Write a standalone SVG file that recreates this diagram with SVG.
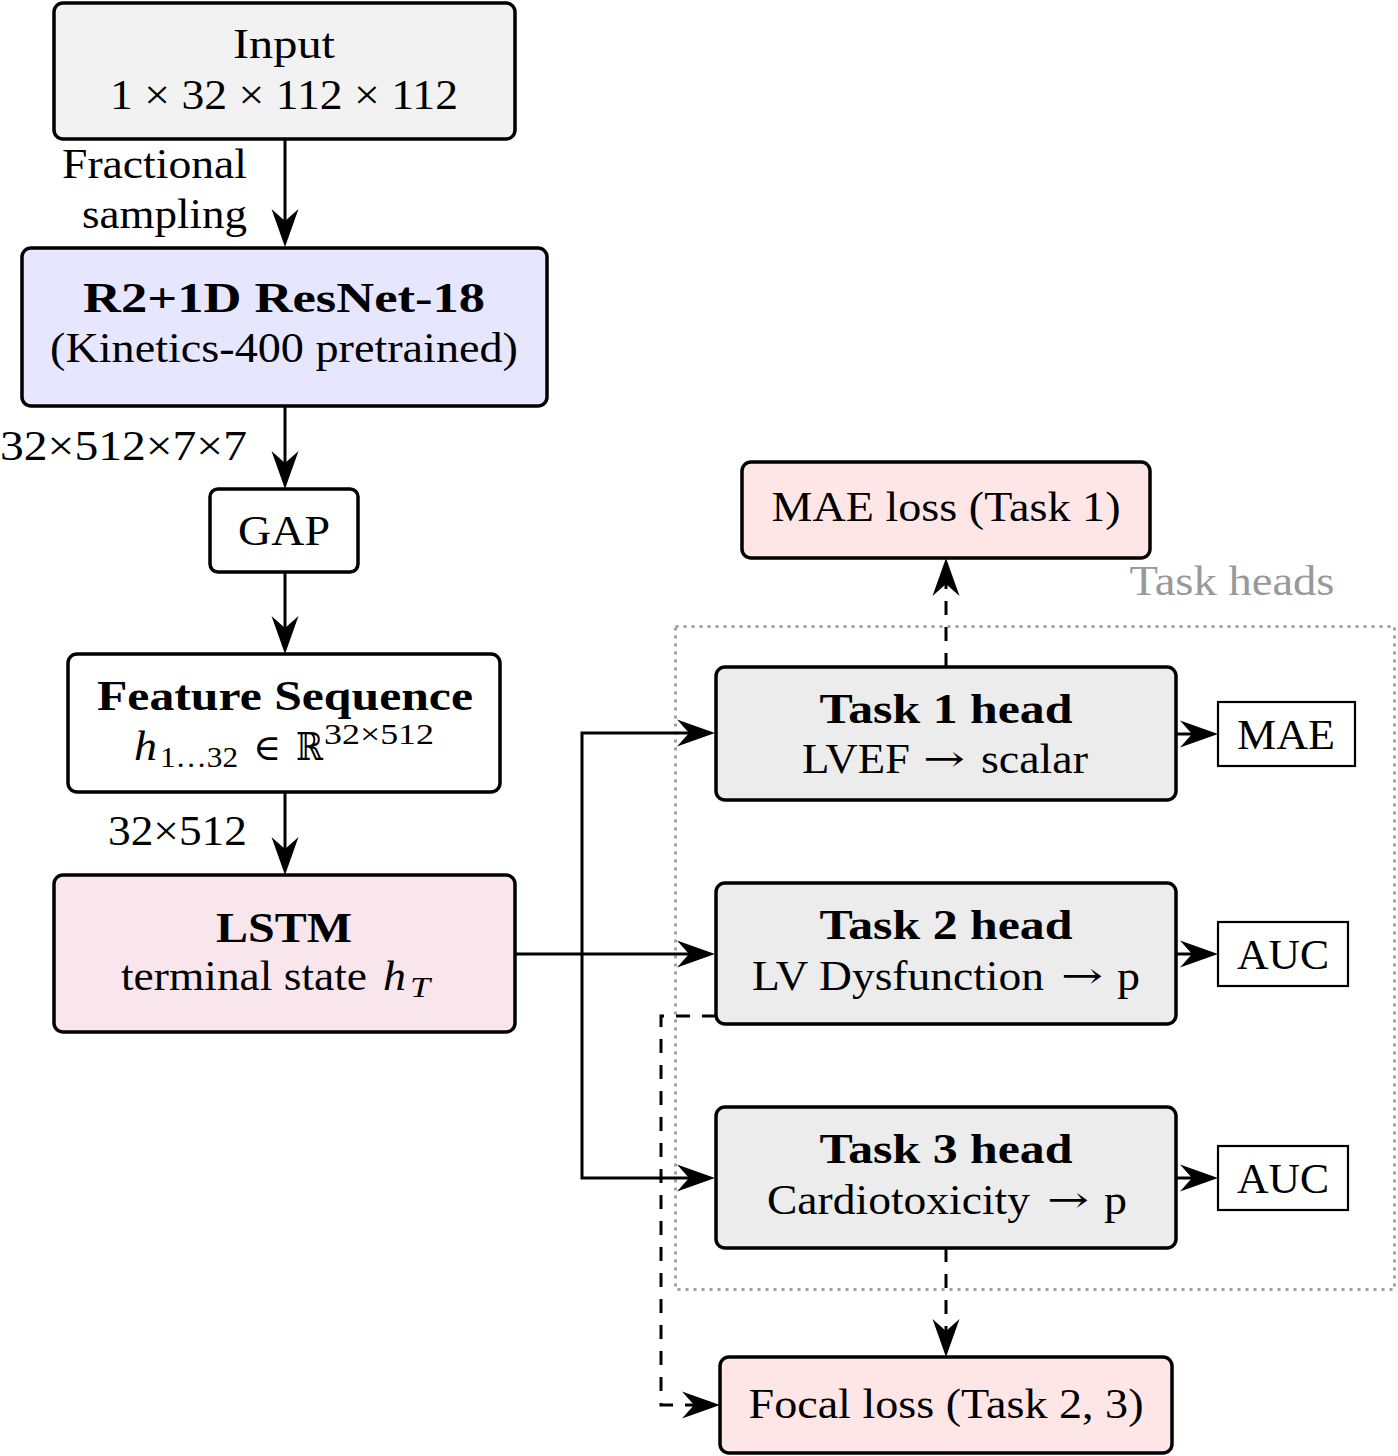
<svg xmlns="http://www.w3.org/2000/svg" width="1398" height="1456" viewBox="0 0 1398 1456">
<style>
text{font-family:"Liberation Serif","DejaVu Serif",serif;font-size:43px;fill:#000}
.b{font-weight:bold}
.ar{font-family:"DejaVu Serif",serif;font-size:36px}
.box{stroke:#000;stroke-width:3.5}
.m{fill:#fff;stroke:#000;stroke-width:2.2}
.c{fill:none;stroke:#000;stroke-width:3}
.d{fill:none;stroke:#000;stroke-width:3;stroke-dasharray:14 12}
</style>
<defs>
<marker id="ah" markerUnits="userSpaceOnUse" viewBox="-40 -15 42 30" markerWidth="42" markerHeight="30" refX="-8" refY="0" orient="auto">
<path d="M0,0 L-38,-13.5 L-26,0 L-38,13.5 Z" fill="#000"/>
</marker>
</defs>
<rect x="0" y="0" width="1398" height="1456" fill="#fff"/>

<g id="taskheads-frame">
<rect x="675.5" y="626.5" width="719" height="663" fill="none" stroke="#a0a0a0" stroke-width="3" stroke-dasharray="3 5"/>
<text x="1232" y="595" text-anchor="middle" style="fill:#999" textLength="205" lengthAdjust="spacingAndGlyphs">Task heads</text>
</g>

<g id="connectors">
<path class="c" d="M285,139 V239" marker-end="url(#ah)"/>
<path class="c" d="M285,406 V481" marker-end="url(#ah)"/>
<path class="c" d="M285,572 V646" marker-end="url(#ah)"/>
<path class="c" d="M285,792 V867" marker-end="url(#ah)"/>
<path class="c" d="M515,954 H707" marker-end="url(#ah)"/>
<path class="c" d="M582,954 V733 H707" marker-end="url(#ah)"/>
<path class="c" d="M582,954 V1178 H707" marker-end="url(#ah)"/>
<path class="c" d="M1176,734 H1210" marker-end="url(#ah)"/>
<path class="c" d="M1176,954 H1210" marker-end="url(#ah)"/>
<path class="c" d="M1176,1178 H1210" marker-end="url(#ah)"/>
<path class="d" d="M946,667 V566" marker-end="url(#ah)"/>
<path class="d" d="M946,1248 V1349" marker-end="url(#ah)"/>
<path class="d" d="M716,1016 H661 V1405 H712" marker-end="url(#ah)"/>
</g>

<g id="input">
<rect class="box" x="54" y="3" width="461" height="136" rx="9" fill="#f2f2f2"/>
<text x="284" y="58" text-anchor="middle" textLength="102" lengthAdjust="spacingAndGlyphs">Input</text>
<text x="284" y="109" text-anchor="middle" textLength="348" lengthAdjust="spacingAndGlyphs">1 × 32 × 112 × 112</text>
</g>
<g id="label-sampling">
<text x="247" y="178" text-anchor="end" textLength="185" lengthAdjust="spacingAndGlyphs">Fractional</text>
<text x="247" y="228" text-anchor="end" textLength="165" lengthAdjust="spacingAndGlyphs">sampling</text>
</g>

<g id="r2plus1d">
<rect class="box" x="22" y="248" width="525" height="158" rx="9" fill="#e6e6ff"/>
<text class="b" x="284" y="312" text-anchor="middle" textLength="402" lengthAdjust="spacingAndGlyphs">R2+1D ResNet-18</text>
<text x="284" y="362" text-anchor="middle" textLength="468" lengthAdjust="spacingAndGlyphs">(Kinetics-400 pretrained)</text>
</g>
<g id="label-dim1">
<text x="0" y="460" textLength="247" lengthAdjust="spacingAndGlyphs">32×512×7×7</text>
</g>

<g id="gap">
<rect class="box" x="210" y="489" width="148" height="83" rx="8" fill="#fff"/>
<text x="284" y="545" text-anchor="middle" textLength="92" lengthAdjust="spacingAndGlyphs">GAP</text>
</g>

<g id="featseq">
<rect class="box" x="68" y="654" width="432" height="138" rx="9" fill="#fff"/>
<text class="b" x="285" y="710" text-anchor="middle" textLength="376" lengthAdjust="spacingAndGlyphs">Feature Sequence</text>
<text x="134" y="760" font-style="italic" textLength="23" lengthAdjust="spacingAndGlyphs">h</text>
<text x="160" y="767" style="font-size:30px" textLength="78" lengthAdjust="spacingAndGlyphs">1…32</text>
<text x="253" y="760" style="font-family:'DejaVu Serif',serif;font-size:36px" textLength="28" lengthAdjust="spacingAndGlyphs">∈</text>
<text x="296" y="760" style="font-family:'DejaVu Serif',serif;font-size:38px" textLength="27" lengthAdjust="spacingAndGlyphs">ℝ</text>
<text x="324" y="744" style="font-size:30px" textLength="110" lengthAdjust="spacingAndGlyphs">32×512</text>
</g>
<g id="label-dim2">
<text x="247" y="845" text-anchor="end" textLength="139" lengthAdjust="spacingAndGlyphs">32×512</text>
</g>

<g id="lstm">
<rect class="box" x="54" y="875" width="461" height="157" rx="9" fill="#f9e6ec"/>
<text class="b" x="284" y="942" text-anchor="middle" textLength="136" lengthAdjust="spacingAndGlyphs">LSTM</text>
<text x="121" y="990" textLength="246" lengthAdjust="spacingAndGlyphs">terminal state</text>
<text x="383" y="990" font-style="italic" textLength="23" lengthAdjust="spacingAndGlyphs">h</text>
<text x="410" y="997" font-style="italic" style="font-size:30px" textLength="20" lengthAdjust="spacingAndGlyphs">T</text>
</g>

<g id="mae-loss">
<rect class="box" x="742" y="462" width="408" height="96" rx="9" fill="#ffe6e6"/>
<text x="946" y="521" text-anchor="middle" textLength="349" lengthAdjust="spacingAndGlyphs">MAE loss (Task 1)</text>
</g>

<g id="task1">
<rect class="box" x="716" y="667" width="460" height="133" rx="9" fill="#ececec"/>
<text class="b" x="946" y="723" text-anchor="middle" textLength="253" lengthAdjust="spacingAndGlyphs">Task 1 head</text>
<text x="802" y="773" textLength="108" lengthAdjust="spacingAndGlyphs">LVEF</text>
<text x="923" y="771" class="ar" textLength="42" lengthAdjust="spacingAndGlyphs">→</text>
<text x="981" y="773" textLength="107" lengthAdjust="spacingAndGlyphs">scalar</text>
</g>
<g id="metric-mae">
<rect class="m" x="1218" y="702" width="137" height="64"/>
<text x="1286" y="749" text-anchor="middle" textLength="98" lengthAdjust="spacingAndGlyphs">MAE</text>
</g>

<g id="task2">
<rect class="box" x="716" y="883" width="460" height="141" rx="9" fill="#ececec"/>
<text class="b" x="946" y="939" text-anchor="middle" textLength="253" lengthAdjust="spacingAndGlyphs">Task 2 head</text>
<text x="752" y="990" textLength="292" lengthAdjust="spacingAndGlyphs">LV Dysfunction</text>
<text x="1061" y="988" class="ar" textLength="42" lengthAdjust="spacingAndGlyphs">→</text>
<text x="1117" y="990" textLength="23" lengthAdjust="spacingAndGlyphs">p</text>
</g>
<g id="metric-auc2">
<rect class="m" x="1218" y="922" width="130" height="64"/>
<text x="1283" y="969" text-anchor="middle" textLength="92" lengthAdjust="spacingAndGlyphs">AUC</text>
</g>

<g id="task3">
<rect class="box" x="716" y="1107" width="460" height="141" rx="9" fill="#ececec"/>
<text class="b" x="946" y="1163" text-anchor="middle" textLength="253" lengthAdjust="spacingAndGlyphs">Task 3 head</text>
<text x="767" y="1214" textLength="263" lengthAdjust="spacingAndGlyphs">Cardiotoxicity</text>
<text x="1047" y="1212" class="ar" textLength="42" lengthAdjust="spacingAndGlyphs">→</text>
<text x="1104" y="1214" textLength="23" lengthAdjust="spacingAndGlyphs">p</text>
</g>
<g id="metric-auc3">
<rect class="m" x="1218" y="1146" width="130" height="64"/>
<text x="1283" y="1193" text-anchor="middle" textLength="92" lengthAdjust="spacingAndGlyphs">AUC</text>
</g>

<g id="focal-loss">
<rect class="box" x="720" y="1357" width="452" height="96" rx="9" fill="#ffe6e6"/>
<text x="946" y="1418" text-anchor="middle" textLength="395" lengthAdjust="spacingAndGlyphs">Focal loss (Task 2, 3)</text>
</g>
</svg>
